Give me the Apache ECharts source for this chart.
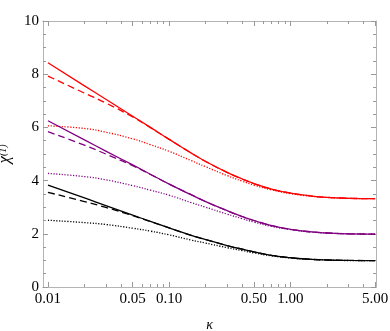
<!DOCTYPE html>
<html>
<head>
<meta charset="utf-8">
<script src="https://cdn.jsdelivr.net/npm/echarts@6/dist/echarts.min.js"></script>
<style>html,body{margin:0;padding:0;background:#fff}#c{width:390px;height:331px}</style>
</head>
<body>
<div id="c"></div>
<script>
const kappa = [0.01,0.02,0.03,0.05,0.07,0.1,0.15,0.2,0.3,0.4,0.5,0.7,1,1.5,2,3,5];
const redSolid    = [8.43,7.56,7.06,6.42,6.00,5.55,5.05,4.72,4.31,4.06,3.89,3.68,3.53,3.42,3.37,3.335,3.32];
const redDashed   = [7.93,7.29,6.92,6.39,5.99,5.55,5.05,4.72,4.31,4.06,3.89,3.68,3.53,3.42,3.37,3.335,3.32];
const redDotted   = [6.06,5.96,5.82,5.57,5.35,5.10,4.76,4.52,4.19,3.98,3.83,3.65,3.51,3.41,3.365,3.333,3.32];
const purSolid    = [6.25,5.53,5.11,4.59,4.24,3.87,3.48,3.21,2.87,2.65,2.50,2.31,2.17,2.07,2.03,2.00,1.99];
const purDashed   = [5.84,5.33,5.00,4.56,4.23,3.87,3.48,3.21,2.87,2.65,2.50,2.31,2.17,2.07,2.03,2.00,1.99];
const purDotted   = [4.27,4.15,4.03,3.81,3.64,3.45,3.18,3.00,2.74,2.57,2.44,2.28,2.16,2.065,2.03,2.00,1.99];
const blkSolid    = [3.83,3.35,3.06,2.70,2.47,2.22,1.95,1.78,1.56,1.42,1.32,1.19,1.10,1.04,1.015,1.00,0.99];
const blkDashed   = [3.56,3.21,2.99,2.68,2.46,2.22,1.95,1.78,1.56,1.42,1.32,1.19,1.10,1.04,1.015,1.00,0.99];
const blkDotted   = [2.51,2.42,2.35,2.21,2.10,1.96,1.77,1.65,1.48,1.37,1.28,1.17,1.09,1.035,1.012,0.995,0.99];
const xMajorTicks = [0.01,0.05,0.1,0.5,1,5];
const xMinorTicks = [0.02,0.03,0.04,0.06,0.07,0.08,0.09,0.2,0.3,0.4,0.6,0.7,0.8,0.9,2,3,4];

const lg = v => Math.log10(v);
const frameColor = '#b4b4b4';
const font = 'Times New Roman, Liberation Serif, serif';

function pts(arr){ return kappa.map((k,i)=>[lg(k), arr[i]]); }
function ser(arr, color, type){
  return {type:'line', data:pts(arr), showSymbol:false, smooth:0.5, xAxisIndex:0, yAxisIndex:0,
    lineStyle:{color:color, width:1.3, type:type}, silent:true, animation:false};
}
const xMin = -2.041, xMax = 0.706;
function xAx(pos, ticks, len, labels, extra){
  return Object.assign({
    type:'value', position:pos, min:xMin, max:xMax,
    axisLine:{show:true, onZero:false, lineStyle:{color:frameColor, width:1}},
    axisTick:{show:true, inside:true, length:len, customValues:ticks.map(lg), lineStyle:{color:'#999', width:1}},
    axisLabel:{show:labels, customValues:ticks.map(lg), color:'#000', fontFamily:font, fontSize:15, margin:5,
      formatter:v=>Math.pow(10,v).toFixed(2)},
    splitLine:{show:false}
  }, extra||{});
}
function yAx(pos, labels, extra){
  return Object.assign({
    type:'value', position:pos, min:0, max:10, interval:2,
    axisLine:{show:true, onZero:false, lineStyle:{color:frameColor}},
    axisTick:{show:true, inside:true, length:5, lineStyle:{color:'#999'}},
    minorTick:{show:true, splitNumber:4, length:3, lineStyle:{color:'#999'}},
    axisLabel:{show:labels, color:'#000', fontFamily:font, fontSize:15, margin:4},
    splitLine:{show:false}
  }, extra||{});
}
const chart = echarts.init(document.getElementById('c'), null, {renderer:'canvas'});
chart.setOption({
  animation:false,
  textStyle:{fontFamily:font},
  grid:{left:43, right:14, top:21, bottom:44, containLabel:false, outerBoundsMode:'none'},
  xAxis:[
    xAx('bottom', xMajorTicks, 5, true, {name:'κ', nameLocation:'middle', nameGap:31,
      nameTextStyle:{fontFamily:font, fontStyle:'italic', fontSize:14, color:'#000'}}),
    xAx('bottom', xMinorTicks, 3, false),
    xAx('top', xMajorTicks, 5, false),
    xAx('top', xMinorTicks, 3, false)
  ],
  yAxis:[
    yAx('left', true, {
     name:'{a|χ}{b|(1)}', nameLocation:'middle', nameRotate:90, nameGap:24,
     nameTextStyle:{rich:{
       a:{fontFamily:font, fontStyle:'italic', fontSize:17, color:'#000', lineHeight:15, verticalAlign:'bottom'},
       b:{fontFamily:font, fontStyle:'italic', fontSize:10, color:'#000', lineHeight:15, verticalAlign:'top'}
     }}}),
    yAx('right', false)
  ],
  series:[
    ser(redDotted,'#ff0000',[1.2,1.6]),
    ser(purDotted,'#800080',[1.2,1.6]),
    ser(blkDotted,'#000000',[1.2,1.6]),
    ser(redDashed,'#ff0000',[7,4]),
    ser(purDashed,'#800080',[7,4]),
    ser(blkDashed,'#000000',[7,4]),
    ser(redSolid,'#ff0000','solid'),
    ser(purSolid,'#800080','solid'),
    ser(blkSolid,'#000000','solid')
  ]
});
</script>
</body>
</html>
